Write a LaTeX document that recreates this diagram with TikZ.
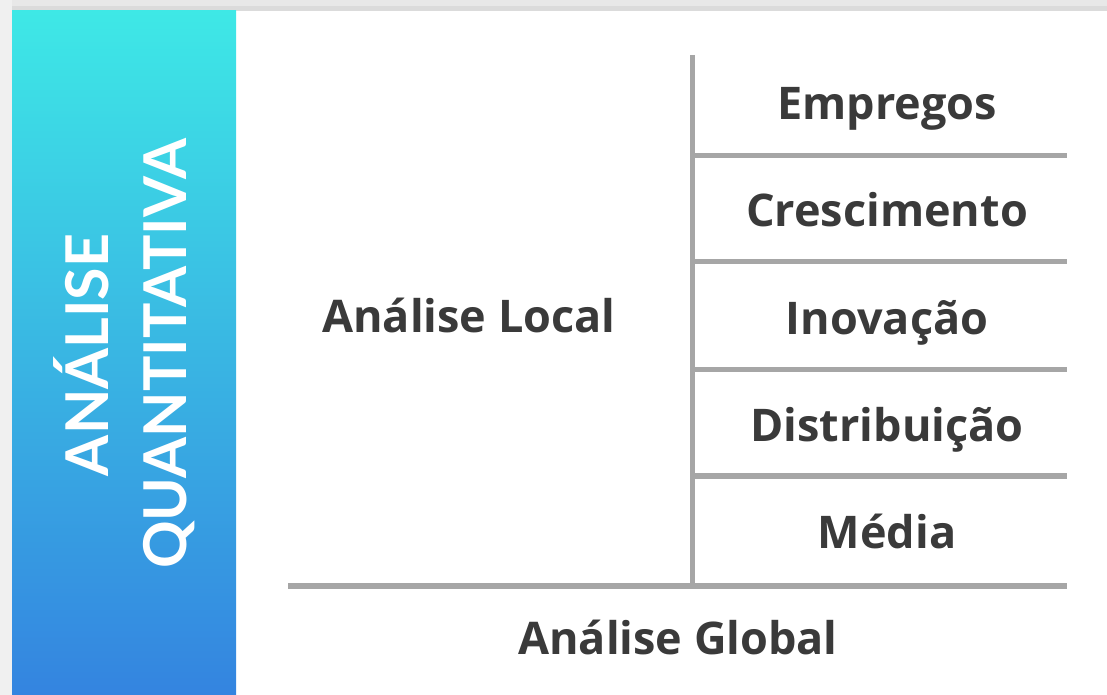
\documentclass[tikz,border=0pt]{standalone}
\usepackage{fontspec}
\setmainfont{Open Sans}
\newfontfamily\latofont{Lato}
\usepackage{xcolor}
\definecolor{panelTop}{HTML}{3EE8E6}
\definecolor{panelBot}{HTML}{3484E0}
\definecolor{inkGray}{HTML}{3A3A3A}
\definecolor{ruleGray}{HTML}{A6A6A6}

\begin{document}
\begin{tikzpicture}[x=0.025cm, y=-0.025cm]
        % ================= 样式 =================
        \tikzset{
            % 右侧条目文字
            item/.style={font=\fontsize{32}{38}\selectfont\bfseries, text=inkGray, anchor=base, inner sep=0pt},
            % 左侧竖排标题
            vtitle/.style={font=\latofont\fontsize{42}{50}\selectfont\bfseries, text=white, anchor=base, rotate=90, inner sep=0pt},
            % 灰色分隔线
            sepline/.style={line width=0.125cm, ruleGray}
        }
        \useasboundingbox (0,0) rectangle (1107,695);

        % ================= 外框 (灰色边) =================
        \fill[gray!18] (0,0) rectangle (1107,11);
        \fill[gray!28] (0,6) rectangle (1107,11);
        \fill[gray!12] (0,0) rectangle (12,695);

        % ================= 左侧渐变面板 =================
        \shade[top color=panelTop, bottom color=panelBot] (12,11) rectangle (236,695);
        \node[vtitle] (tanalise) at (108,355) {ANÁLISE};
        \node[vtitle] (tquant) at (186,354) {QUANTITATIVA};

        % ================= 分隔线 =================
        \coordinate (vtop) at (692.5,55);
        \coordinate (vbot) at (692.5,586);
        \coordinate (gleft) at (288,586);
        \coordinate (gright) at (1067,586);
        \draw[sepline] (vtop) -- (vbot);
        \draw[sepline] (gleft) -- (gright);
        \foreach \y [count=\i] in {155.5,261.5,369.5,476} {
            \coordinate (hl\i) at (692.5,\y);
            \coordinate (hr\i) at (1067,\y);
            \draw[sepline] (hl\i) -- (hr\i);
        }

        % ================= 文字 =================
        \node[item] (empregos) at (887,119.5) {Empregos};
        \node[item] (cresc) at (887,226.5) {Crescimento};
        \node[item] (inov) at (887,334.5) {Inovação};
        \node[item] (distr) at (887,441.5) {Distribuição};
        \node[item] (media) at (887,548.5) {Média};

        \node[item] (local) at (469,333) {Análise Local};
        \node[item] (global) at (678,654) {Análise Global};

    \end{tikzpicture}
\end{document}
